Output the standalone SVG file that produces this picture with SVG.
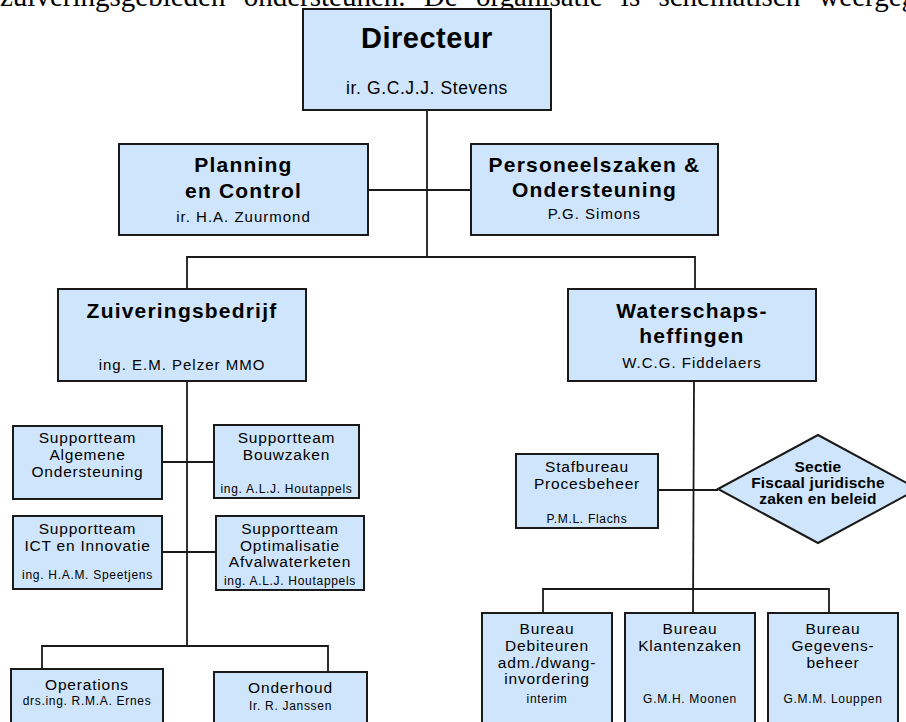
<svg xmlns="http://www.w3.org/2000/svg" width="906" height="722" viewBox="0 0 906 722">
  <style>
    .box { fill: #cfe5fb; stroke: #1a1a1a; stroke-width: 2; }
    .line { fill: none; stroke: #1a1a1a; stroke-width: 1.8; }
    text { font-family: "Liberation Sans", Arial, sans-serif; fill: #000; text-anchor: middle; }
    .h1 { font-size: 29px; font-weight: bold; letter-spacing: 0.5px; }
    .h2 { font-size: 21px; font-weight: bold; letter-spacing: 1.2px; }
    .n2 { font-size: 15px; letter-spacing: 1px; }
    .t { font-size: 15.5px; letter-spacing: 0.8px; }
    .s { font-size: 12px; letter-spacing: 0.7px; }
    .d { font-size: 15.5px; font-weight: bold; letter-spacing: 0.2px; }
    .prose { font-family: "Liberation Serif", "Times New Roman", serif; font-size: 29px; word-spacing: 11px; text-anchor: start; }
  </style>

  <!-- running text above the chart -->
  <text class="prose" x="0" y="6">zuiveringsgebieden ondersteunen. De organisatie is schematisch weergegeven</text>

  <g id="connectors">
    <path class="line" d="M427 110 V257"/>
    <path class="line" d="M368 190 H471"/>
    <path class="line" d="M187 289 V257 H695 V289"/>
    <path class="line" d="M187 381 V646"/>
    <path class="line" d="M162 462 H214"/>
    <path class="line" d="M162 552 H216"/>
    <path class="line" d="M42 669 V646 H328 V672"/>
    <path class="line" d="M694 381 L693 613"/>
    <path class="line" d="M658 490 H718"/>
    <path class="line" d="M543 613 V589 H829 V613"/>
  </g>

  <g id="directeur">
    <rect class="box" x="303" y="9" width="248" height="101"/>
    <text class="h1" x="427" y="48">Directeur</text>
    <text x="427" y="94" style="font-size:17.5px;letter-spacing:0.6px">ir. G.C.J.J. Stevens</text>
  </g>

  <g id="planning">
    <rect class="box" x="119" y="144" width="249" height="91"/>
    <text class="h2" x="243.5" y="172">Planning</text>
    <text class="h2" x="243.5" y="198">en Control</text>
    <text class="n2" x="243.5" y="222">ir. H.A. Zuurmond</text>
  </g>

  <g id="personeelszaken">
    <rect class="box" x="471" y="144" width="247" height="91"/>
    <text class="h2" x="594.5" y="172">Personeelszaken &amp;</text>
    <text class="h2" x="594.5" y="197">Ondersteuning</text>
    <text class="n2" x="594.5" y="219">P.G. Simons</text>
  </g>

  <g id="zuiveringsbedrijf">
    <rect class="box" x="58" y="289" width="248" height="92"/>
    <text class="h2" x="182" y="318">Zuiveringsbedrijf</text>
    <text class="n2" x="182" y="370">ing. E.M. Pelzer MMO</text>
  </g>

  <g id="waterschapsheffingen">
    <rect class="box" x="568" y="289" width="248" height="92"/>
    <text class="h2" x="692" y="318">Waterschaps-</text>
    <text class="h2" x="692" y="343">heffingen</text>
    <text class="n2" x="692" y="368">W.C.G. Fiddelaers</text>
  </g>

  <g id="st-algemene-ondersteuning">
    <rect class="box" x="13" y="426" width="149" height="73"/>
    <text class="t" x="87.5" y="443">Supportteam</text>
    <text class="t" x="87.5" y="460">Algemene</text>
    <text class="t" x="87.5" y="477">Ondersteuning</text>
  </g>

  <g id="st-bouwzaken">
    <rect class="box" x="214" y="425" width="145" height="73"/>
    <text class="t" x="286.5" y="443">Supportteam</text>
    <text class="t" x="286.5" y="460">Bouwzaken</text>
    <text class="s" x="286.5" y="493">ing. A.L.J. Houtappels</text>
  </g>

  <g id="st-ict">
    <rect class="box" x="13" y="516" width="149" height="73"/>
    <text class="t" x="87.5" y="534">Supportteam</text>
    <text class="t" x="87.5" y="551">ICT en Innovatie</text>
    <text class="s" x="87.5" y="579">ing. H.A.M. Speetjens</text>
  </g>

  <g id="st-optimalisatie">
    <rect class="box" x="216" y="516" width="148" height="74"/>
    <text class="t" x="290" y="534">Supportteam</text>
    <text class="t" x="290" y="551">Optimalisatie</text>
    <text class="t" x="290" y="567">Afvalwaterketen</text>
    <text class="s" x="290" y="585">ing. A.L.J. Houtappels</text>
  </g>

  <g id="operations">
    <rect class="box" x="11" y="669" width="152" height="62"/>
    <text class="t" x="87" y="690">Operations</text>
    <text class="s" x="87" y="705">drs.ing. R.M.A. Ernes</text>
  </g>

  <g id="onderhoud">
    <rect class="box" x="214" y="672" width="153" height="60"/>
    <text class="t" x="290.5" y="693">Onderhoud</text>
    <text class="s" x="290.5" y="710">Ir. R. Janssen</text>
  </g>

  <g id="stafbureau">
    <rect class="box" x="516" y="454" width="142" height="74"/>
    <text class="t" x="587" y="472">Stafbureau</text>
    <text class="t" x="587" y="489">Procesbeheer</text>
    <text class="s" x="587" y="523">P.M.L. Flachs</text>
  </g>

  <g id="sectie-fiscaal">
    <polygon class="box" points="718,489 818,435 918,489 818,543"/>
    <text class="d" x="818" y="472">Sectie</text>
    <text class="d" x="818" y="488">Fiscaal juridische</text>
    <text class="d" x="818" y="504">zaken en beleid</text>
  </g>

  <g id="bureau-debiteuren">
    <rect class="box" x="482" y="613" width="130" height="120"/>
    <text class="t" x="547" y="634">Bureau</text>
    <text class="t" x="547" y="651">Debiteuren</text>
    <text class="t" x="547" y="668">adm./dwang-</text>
    <text class="t" x="547" y="684">invordering</text>
    <text class="s" x="547" y="703">interim</text>
  </g>

  <g id="bureau-klantenzaken">
    <rect class="box" x="625" y="613" width="130" height="120"/>
    <text class="t" x="690" y="634">Bureau</text>
    <text class="t" x="690" y="651">Klantenzaken</text>
    <text class="s" x="690" y="703">G.M.H. Moonen</text>
  </g>

  <g id="bureau-gegevensbeheer">
    <rect class="box" x="768" y="613" width="130" height="120"/>
    <text class="t" x="833" y="634">Bureau</text>
    <text class="t" x="833" y="651">Gegevens-</text>
    <text class="t" x="833" y="668">beheer</text>
    <text class="s" x="833" y="703">G.M.M. Louppen</text>
  </g>
</svg>
